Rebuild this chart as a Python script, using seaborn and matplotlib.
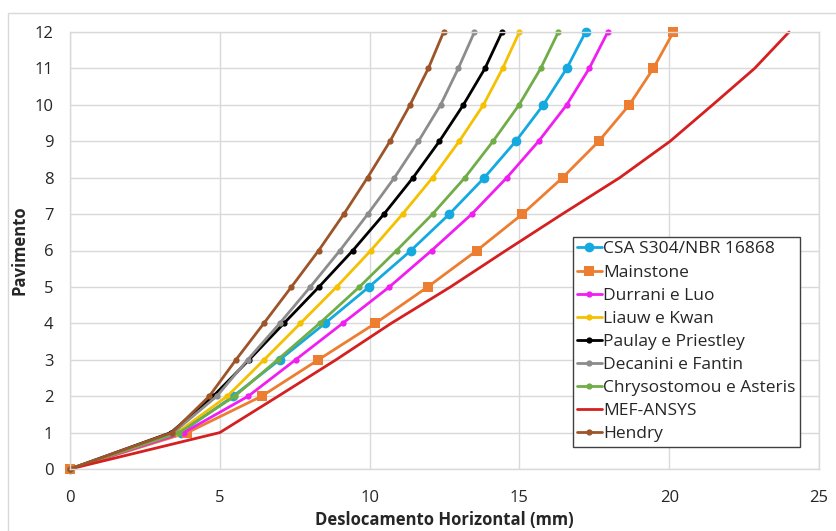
import matplotlib
matplotlib.use("Agg")
import matplotlib.pyplot as plt
from matplotlib.patches import Rectangle
import seaborn as sns
import pandas as pd

floors = list(range(0, 13))

csa = [0, 3.70, 5.45, 7.00, 8.51, 9.98, 11.38, 12.66, 13.83, 14.88, 15.80, 16.58, 17.21]
mainstone = [0, 3.92, 6.40, 8.29, 10.19, 11.94, 13.58, 15.10, 16.44, 17.65, 18.67, 19.47, 20.14]
durrani = [0, 3.80, 5.95, 7.53, 9.10, 10.66, 12.07, 13.41, 14.58, 15.64, 16.58, 17.33, 17.95]
liauw = [0, 3.58, 5.25, 6.48, 7.69, 8.90, 10.04, 11.10, 12.10, 12.99, 13.80, 14.44, 15.00]
paulay = [0, 3.37, 4.78, 5.98, 7.14, 8.31, 9.44, 10.48, 11.45, 12.33, 13.13, 13.85, 14.42]
decanini = [0, 3.45, 4.90, 5.93, 7.00, 8.02, 9.01, 9.94, 10.83, 11.63, 12.37, 12.96, 13.50]
chrysostomou = [0, 3.65, 5.50, 6.93, 8.33, 9.66, 10.90, 12.10, 13.18, 14.12, 14.99, 15.71, 16.30]
mef = [0, 5.00, 6.95, 8.88, 10.72, 12.70, 14.55, 16.43, 18.35, 20.03, 21.45, 22.85, 24.00]
hendry = [0, 3.40, 4.65, 5.54, 6.47, 7.39, 8.30, 9.14, 9.93, 10.68, 11.35, 11.96, 12.47]

series_names = ["CSA S304/NBR 16868", "Mainstone", "Durrani e Luo", "Liauw e Kwan",
                "Paulay e Priestley", "Decanini e Fantin", "Chrysostomou e Asteris",
                "MEF-ANSYS", "Hendry"]
series_values = [csa, mainstone, durrani, liauw, paulay, decanini, chrysostomou, mef, hendry]

x_ticks = [0, 5, 10, 15, 20, 25]
y_ticks = list(range(0, 13))

styles = {
    "CSA S304/NBR 16868": dict(color="#14A9DF", marker="o", markersize=7),
    "Mainstone": dict(color="#ED7D31", marker="s", markersize=7.5),
    "Durrani e Luo": dict(color="#F01EF0", marker="o", markersize=4.5),
    "Liauw e Kwan": dict(color="#F5C000", marker="o", markersize=4.5),
    "Paulay e Priestley": dict(color="#000000", marker="o", markersize=4.5),
    "Decanini e Fantin": dict(color="#8C8C8C", marker="o", markersize=4.5),
    "Chrysostomou e Asteris": dict(color="#70AD47", marker="o", markersize=4.5),
    "MEF-ANSYS": dict(color="#D42020", marker=None, markersize=0),
    "Hendry": dict(color="#9C5428", marker="o", markersize=4.5),
}

sns.set_style("white")
plt.rcParams["font.family"] = ["Open Sans", "DejaVu Sans"]

fig = plt.figure(figsize=(8.37, 5.31), dpi=100)
ax = fig.add_axes([70 / 837, 1 - 469 / 531, (819 - 70) / 837, (469 - 32) / 531])

# outer chart border
fig.patches.append(Rectangle((8 / 837, -0.05), 1.1, 1 - 13 / 531 + 0.05,
                             transform=fig.transFigure, fill=False,
                             edgecolor="#D9D9D9", linewidth=1.0, zorder=0))

for name, vals in zip(series_names, series_values):
    df = pd.DataFrame({"x": vals, "y": floors})
    st = styles[name]
    kw = dict(color=st["color"], linewidth=2.0, label=name, clip_on=False)
    if st["marker"]:
        kw.update(marker=st["marker"], markersize=st["markersize"],
                  markeredgewidth=0, markerfacecolor=st["color"])
    sns.lineplot(data=df, x="x", y="y", ax=ax, estimator=None, sort=False, **kw)

ax.set_xlim(0, 25)
ax.set_ylim(0, 12)
ax.set_xticks(x_ticks)
ax.set_yticks(y_ticks)
ax.grid(True, color="#D9D9D9", linewidth=1.0)
ax.set_axisbelow(True)
for s in ax.spines.values():
    s.set_color("#D9D9D9")
    s.set_linewidth(1.0)
ax.tick_params(axis="y", length=0, labelsize=12, colors="#262626", pad=12)
ax.tick_params(axis="x", length=0, labelsize=12, colors="#262626", pad=15)

ax.set_xlabel("Deslocamento Horizontal (mm)", fontsize=12, fontweight="bold",
              color="#262626", labelpad=4)
ax.set_ylabel("Pavimento", fontsize=12, fontweight="bold", color="#262626", labelpad=4)

leg = ax.legend(loc="upper left", bbox_to_anchor=(573 / 837, 1 - 237 / 531),
                bbox_transform=fig.transFigure, borderaxespad=0, frameon=True,
                fancybox=False, framealpha=1, edgecolor="#404040", fontsize=12.5,
                handlelength=1.4, handletextpad=0.1, labelspacing=0.4,
                borderpad=0.25)
leg.get_frame().set_linewidth(1.0)

fig.savefig("out.png", dpi=100, facecolor="white")
